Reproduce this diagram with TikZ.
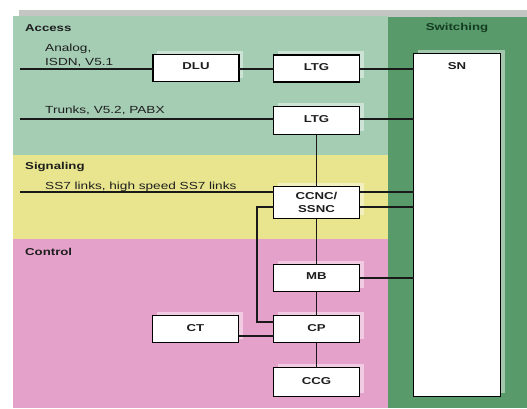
\documentclass[tikz,border=0pt]{standalone}
\usepackage{fontspec}
\setmainfont{Liberation Sans}[FakeStretch=1.32]
\usetikzlibrary{calc,shadows}

\definecolor{accessgreen}{RGB}{164,205,180}
\definecolor{signalyellow}{RGB}{232,229,142}
\definecolor{controlpink}{RGB}{228,162,202}
\definecolor{switchgreen}{RGB}{88,154,106}
\definecolor{stripgray}{RGB}{196,198,196}
\definecolor{inkdark}{RGB}{30,30,30}
\definecolor{switchtext}{RGB}{20,60,35}

\tikzset{
  unitbox/.style={draw=black, line width=1.7pt, fill=white, font=\fontsize{10}{12}\selectfont\bfseries,
    text=inkdark, minimum width=86pt, minimum height=27pt, inner sep=0pt, outer sep=0pt,
    text depth=3pt,
    general shadow={shadow xshift=4pt, shadow yshift=4pt, fill=white, opacity=0.45, draw=none}},
  link/.style={draw=black!90, line width=1.2pt},
  areatitle/.style={anchor=base west, font=\fontsize{10}{12}\selectfont\bfseries, text=inkdark, inner sep=0pt},
  linklabel/.style={anchor=base west, font=\fontsize{10.3}{14.5}\selectfont, text=inkdark, inner sep=0pt, align=left},
}

\begin{document}
\begin{tikzpicture}[x=1pt, y=-1pt]
\useasboundingbox (0,0) rectangle (527,408);

% background areas
\fill[stripgray] (19,10) rectangle (527,17);
\fill[accessgreen] (13,16) rectangle (388,155);
\fill[signalyellow] (13,155) rectangle (388,239);
\fill[controlpink] (13,239) rectangle (388,408);
\fill[switchgreen] (388,17) rectangle (527,408);

% area titles
\node[areatitle] (tAccess) at (25,31) {Access};
\node[areatitle] (tSignal) at (25,169) {Signaling};
\node[areatitle] (tControl) at (25,255) {Control};
\node[areatitle, anchor=base, text=switchtext] (tSwitch) at (457,30) {Switching};

% switching network, titled at its top edge
\node[unitbox, minimum width=87pt, minimum height=343pt, anchor=north] (SN) at (457,53.5) {};
\node[font=\fontsize{10}{12}\selectfont\bfseries, text=inkdark, inner sep=0pt, anchor=base]
  (SNtitle) at ($(SN.north)+(0,16)$) {SN};

% units
\node[unitbox] (DLU) at (196,68) {DLU};
\node[unitbox] (LTGa) at (316.5,68.5) {LTG};
\node[unitbox, minimum height=28pt] (LTGb) at (316.5,120.5) {LTG};
\node[unitbox, minimum height=32pt, align=center, font=\fontsize{10}{12.5}\selectfont\bfseries, text depth=0pt]
  (CCNC) at (316.5,202.5) {CCNC/\\SSNC};
\node[unitbox] (MB) at (316.5,278) {MB};
\node[unitbox] (CP) at (316.5,329) {CP};
\node[unitbox, minimum height=29pt] (CCG) at (316.5,382) {CCG};
\node[unitbox] (CT) at (195.5,329) {CT};

% link labels
\node[linklabel] (lAnalog) at (45,65.5) {Analog,\\ISDN, V5.1};
\node[linklabel] (lTrunks) at (45,113) {Trunks, V5.2, PABX};
\node[linklabel] (lSS7) at (45,189.5) {SS7 links, high speed SS7 links};

% line ends and bends
\coordinate (inA) at (20,69);
\coordinate (inT) at (20,119);
\coordinate (inS) at (20,192);
\coordinate (loop) at (257,207);

% access links
\draw[link] (inA) -- (inA -| DLU.west);
\draw[link] (inA -| DLU.east) -- (inA -| LTGa.west);
\draw[link] (inA -| LTGa.east) -- (inA -| SN.west);
\draw[link] (inT) -- (inT -| LTGb.west);
\draw[link] (inT -| LTGb.east) -- (inT -| SN.west);
\draw[link] (LTGb.south) -- (CCNC.north);

% signaling links
\draw[link] (inS) -- (inS -| CCNC.west);
\draw[link] (inS -| CCNC.east) -- (inS -| SN.west);
\draw[link] (loop -| CCNC.east) -- (loop -| SN.west);
\draw[link] (loop -| CCNC.west) -- (loop) |- ($(CP.west)+(0,-7)$);

% control links
\draw[link] (CCNC.south) -- (MB.north);
\draw[link] (MB.east) -- (MB.east -| SN.west);
\draw[link] (MB.south) -- (CP.north);
\draw[link] (CP.south) -- (CCG.north);
\draw[link] ($(CT.east)+(0,7)$) -- ($(CP.west)+(0,7)$);
\end{tikzpicture}
\end{document}
